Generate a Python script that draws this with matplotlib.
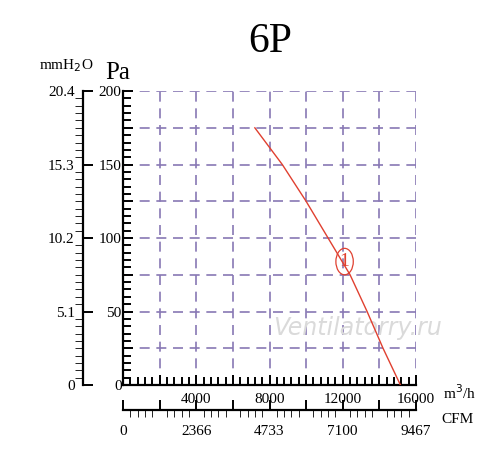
import numpy as np
import matplotlib
matplotlib.use("Agg")
import matplotlib.pyplot as plt
from matplotlib.patches import Ellipse
from matplotlib.ticker import FixedLocator

plt.rcParams['font.family'] = ['Liberation Serif', 'DejaVu Serif']

# curve 1
flow = [7200, 8700, 10000, 11200, 12400, 13330, 14200, 15150]  # m3/h
pres = [175, 150, 125, 100, 75, 50, 25, 0]  # Pa

x_ticks = [4000, 8000, 12000, 16000]
cfm_pos = [0, 4000, 8000, 12000, 16000]
cfm_labels = ["0", "2366", "4733", "7100", "9467"]
pa_ticks = [0, 50, 100, 150, 200]
mm_labels = ["0", "5.1", "10.2", "15.3", "20.4"]

grid_col = "#8878b4"
red = "#e04030"

x_major = list(range(0, 16001, 2000))
x_minor = list(range(0, 16001, 400))
y_major = list(range(0, 201, 25))
y_minor = list(range(0, 201, 5))

fig = plt.figure(figsize=(5, 4.55), dpi=100)
L, B, W, H = 0.246, 0.1538, 0.586, 0.646
ax = fig.add_axes([L, B, W, H])
ax.set_xlim(0, 16000)
ax.set_ylim(0, 200)

# dashed grid
for gx in x_major[1:]:
    ax.axvline(gx, color=grid_col, lw=1.2, ls=(0, (6, 4)), zorder=1)
for gy in y_major[1:]:
    ax.axhline(gy, color=grid_col, lw=1.2, ls=(0, (6, 4)), zorder=1)

ax.plot(flow, pres, color=red, lw=1.0, zorder=3)
ax.add_patch(Ellipse((12100, 84), 950, 18, fill=False, ec=red, lw=0.9, zorder=4))
ax.text(12100, 84, "1", color=red, fontsize=14, ha="center", va="center", zorder=4)

ax.text(12800, 39, "Ventilatorry.ru", color="#dadada", fontsize=17, style="italic",
        family="DejaVu Sans", ha="center", va="center", zorder=2)

for s in ["top", "right"]:
    ax.spines[s].set_visible(False)
for s in ["left", "bottom"]:
    ax.spines[s].set_linewidth(1.6)

ax.xaxis.set_major_locator(FixedLocator(x_major))
ax.xaxis.set_minor_locator(FixedLocator(x_minor))
ax.set_xticklabels([str(v) if v in x_ticks else "" for v in x_major])
ax.yaxis.set_major_locator(FixedLocator(y_major))
ax.yaxis.set_minor_locator(FixedLocator(y_minor))
ax.set_yticklabels([str(v) if v in pa_ticks else "" for v in y_major])
ax.tick_params(direction="in", width=1.4, labelsize=11)
ax.tick_params(which="major", length=7)
ax.tick_params(which="minor", direction="in", length=6, width=1.4)
ax.tick_params(axis="x", pad=6)
ax.tick_params(axis="y", pad=1)

# mmH2O axis
ax2 = fig.add_axes([0.166, B, 0.001, H])
ax2.set_ylim(0, 200)
ax2.set_xticks([])
for s in ["top", "right", "bottom"]:
    ax2.spines[s].set_visible(False)
ax2.spines["left"].set_linewidth(1.6)
ax2.yaxis.set_major_locator(FixedLocator(pa_ticks))
ax2.yaxis.set_minor_locator(FixedLocator(y_minor))
ax2.set_yticklabels(mm_labels)
ax2.tick_params(axis="y", direction="in", width=1.4, labelsize=11, pad=6)
ax2.tick_params(axis="y", which="major", length=7)
ax2.tick_params(axis="y", which="minor", length=6)

# CFM axis
ax3 = fig.add_axes([L, 0.099, W, 0.0001])
ax3.set_xlim(0, 16000)
ax3.set_yticks([])
for s in ["top", "right", "left"]:
    ax3.spines[s].set_visible(False)
ax3.spines["bottom"].set_linewidth(1.6)
ax3.xaxis.set_major_locator(FixedLocator(x_major))
ax3.xaxis.set_minor_locator(FixedLocator(x_minor))
ax3.set_xticklabels([cfm_labels[cfm_pos.index(v)] if v in cfm_pos else ""
                     for v in x_major])
ax3.tick_params(axis="x", direction="in", width=1.4, labelsize=11, pad=11)
ax3.tick_params(axis="x", which="major", length=7)
ax3.tick_params(axis="x", which="minor", length=5)

fig.text(0.54, 0.908, "6P", fontsize=30, ha="center", va="center")
fig.text(0.132, 0.855, "mmH$_2$O", fontsize=11, ha="center", va="center")
fig.text(0.236, 0.84, "Pa", fontsize=18, ha="center", va="center")
fig.text(0.918, 0.137, "m$^3$/h", fontsize=11, ha="center", va="center")
fig.text(0.914, 0.079, "CFM", fontsize=11, ha="center", va="center")

fig.savefig("out.png", dpi=100)
